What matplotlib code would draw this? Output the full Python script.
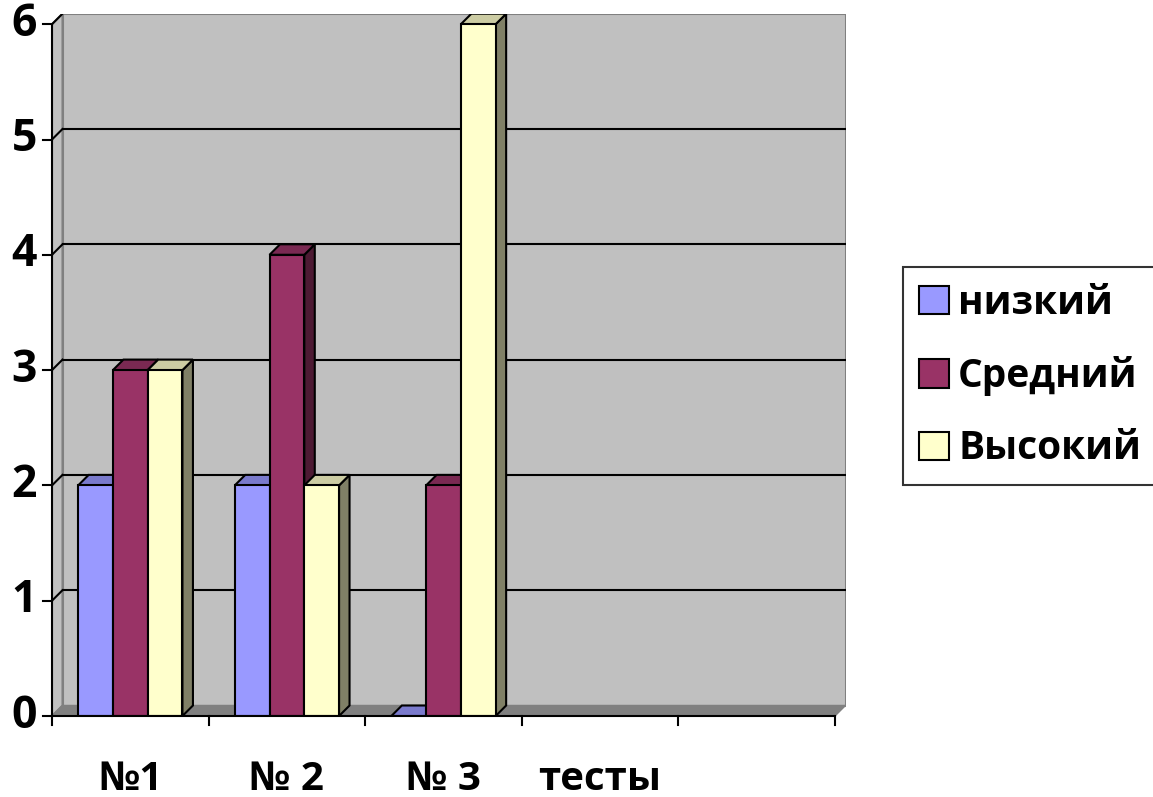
import matplotlib
matplotlib.use("Agg")
import matplotlib.pyplot as plt
from matplotlib.patches import Polygon, Patch
import numpy as np

plt.rcParams["font.family"] = ["Open Sans", "DejaVu Sans"]
plt.rcParams["font.weight"] = "bold"

categories = ["№1", "№ 2", "№ 3", "тесты", ""]
series = ["низкий", "Средний", "Высокий"]
low = [2, 2, 0, 0, 0]
mid = [3, 4, 2, 0, 0]
high = [3, 2, 6, 0, 0]
colors = ["#9999FF", "#993366", "#FFFFCC"]
yticks = [0, 1, 2, 3, 4, 5, 6]

W, H = 1153, 797
fig = plt.figure(figsize=(W / 100, H / 100), dpi=100)

# depth of the fake 3D box, in data units
ncat = len(categories)
ymax = 6
px_x = 156.6   # px per category
px_y = 115.3   # px per unit
dx = 10.5 / px_x
dy = 10.5 / px_y

left, right = 52, 52 + ncat * px_x + dx * px_x
bottom, top = 716, 716 - (ymax + dy) * px_y
ax = fig.add_axes([left / W, 1 - bottom / H, (right - left) / W, (bottom - top) / H])
ax.set_xlim(0, ncat + dx)
ax.set_ylim(0, ymax + dy)
ax.axis("off")


def shade(c, f):
    rgb = np.array(matplotlib.colors.to_rgb(c))
    return tuple(rgb * f)


wall = "#C0C0C0"
# back wall, side wall, floor
ax.add_patch(Polygon([(dx, dy), (ncat + dx, dy), (ncat + dx, ymax + dy), (dx, ymax + dy)],
                     fc=wall, ec="#808080", lw=1.5, zorder=1))
ax.add_patch(Polygon([(0, 0), (dx, dy), (dx, ymax + dy), (0, ymax)],
                     fc=wall, ec="#808080", lw=1.5, zorder=1))
ax.add_patch(Polygon([(0, 0), (ncat, 0), (ncat + dx, dy), (dx, dy)],
                     fc="#808080", ec="#808080", lw=1, zorder=1))

# gridlines on the back wall plus their diagonal on the side wall
for k in yticks[1:-1]:
    ax.plot([dx, ncat + dx], [k + dy, k + dy], color="black", lw=1.5, zorder=2)
for k in yticks[1:]:
    ax.plot([0, dx], [k, k + dy], color="black", lw=1.5, zorder=2)

# columns
bw = 0.222
data = [low, mid, high]
for i in range(ncat):
    x0 = i + 0.5 - 1.5 * bw
    for j, vals in enumerate(data):
        v = vals[i]
        if i >= 3:
            continue
        x = x0 + j * bw
        c = colors[j]
        ax.add_patch(Polygon([(x + bw, 0), (x + bw + dx, dy), (x + bw + dx, v + dy), (x + bw, v)],
                             fc=shade(c, 0.5), ec="black", lw=1.5, zorder=3))
        ax.add_patch(Polygon([(x, v), (x + bw, v), (x + bw + dx, v + dy), (x + dx, v + dy)],
                             fc=shade(c, 0.8), ec="black", lw=1.5, zorder=3))
        if v > 0:
            ax.add_patch(Polygon([(x, 0), (x + bw, 0), (x + bw, v), (x, v)],
                                 fc=c, ec="black", lw=1.5, zorder=3))

# front axes
ax.plot([0, 0], [0, ymax], color="black", lw=1.5, zorder=4, clip_on=False)
ax.plot([0, ncat], [0, 0], color="black", lw=1.5, zorder=4, clip_on=False)
tx = 9 / px_x
ty = 9 / px_y
for k in yticks:
    ax.plot([-tx, 0], [k, k], color="black", lw=1.5, clip_on=False)
    ax.text(-tx - 6 / px_x, k, str(k), ha="right", va="center", fontsize=32,
            fontweight="bold")
for i in range(ncat + 1):
    ax.plot([i, i], [0, -ty], color="black", lw=1.5, clip_on=False)
for i, lab in enumerate(categories):
    ax.text(i + 0.5, -74 / px_y, lab, ha="center", va="baseline", fontsize=29,
            fontweight="bold")

handles = [Patch(fc=c, ec="black", lw=1.5) for c in colors]
leg = fig.legend(handles, series, loc="center left",
                 bbox_to_anchor=(903 / W, 1 - 376 / H),
                 prop={"size": 28, "weight": "bold"},
                 frameon=True, fancybox=False, borderpad=0.42,
                 handlelength=0.75, handleheight=0.75, handletextpad=0.25,
                 labelspacing=0.86, borderaxespad=0)
leg.get_frame().set_edgecolor("black")
leg.get_frame().set_linewidth(1.5)

fig.savefig("out.png", dpi=100)
